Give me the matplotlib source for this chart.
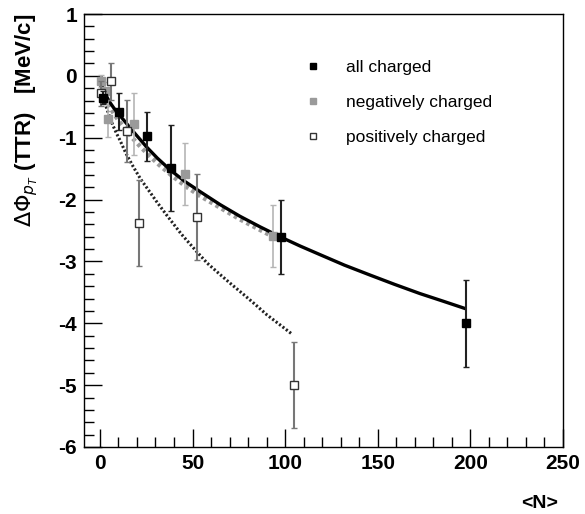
import matplotlib
matplotlib.use("Agg")
import matplotlib.pyplot as plt
from matplotlib.lines import Line2D
from matplotlib.ticker import MultipleLocator

plt.rcParams['font.family'] = ['Liberation Sans', 'DejaVu Sans']
plt.rcParams['axes.unicode_minus'] = False

# ---- data ----
all_x = [1.5, 10.3, 25.2, 38.3, 97.5, 197.5]
all_y = [-0.35, -0.58, -0.98, -1.49, -2.6, -4.0]
all_err = [0.1, 0.3, 0.4, 0.7, 0.6, 0.7]

neg_x = [0.8, 2.5, 4.2, 18.4, 45.9, 93.3]
neg_y = [-0.08, -0.25, -0.69, -0.78, -1.59, -2.59]
neg_err = [0.1, 0.15, 0.3, 0.5, 0.5, 0.5]

pos_x = [0.4, 6.1, 14.5, 21.0, 52.2, 105.0]
pos_y = [-0.28, -0.09, -0.89, -2.38, -2.28, -5.0]
pos_err = [0.2, 0.3, 0.5, 0.7, 0.7, 0.7]

fit_all_x = [0.5, 1.2, 2.2, 3.5, 5.4, 7.5, 9.9, 13.0, 16.0, 20.0, 25.2, 31.0, 38.3, 46.0, 54.0,
             64.8, 75.6, 86.4, 97.2, 108.0, 118.8, 132.0, 145.8, 159.0, 172.8, 185.0, 197.0]
fit_all_y = [-0.10, -0.17, -0.25, -0.33, -0.43, -0.52, -0.61, -0.72, -0.83, -0.97, -1.15, -1.33,
             -1.53, -1.71, -1.87, -2.08, -2.27, -2.44, -2.60, -2.75, -2.89, -3.06, -3.22, -3.37,
             -3.52, -3.64, -3.76]

fit_neg_x = [0.5, 1.2, 2.0, 3.4, 5.0, 7.5, 10.0, 14.0, 18.0, 22.0, 27.0, 32.0, 38.3, 46.0, 54.0,
             64.8, 75.6, 86.4, 93.4]
fit_neg_y = [-0.13, -0.21, -0.28, -0.38, -0.48, -0.61, -0.72, -0.88, -1.02, -1.15, -1.30, -1.44,
             -1.60, -1.78, -1.94, -2.13, -2.32, -2.49, -2.60]

fit_pos_x = [0.5, 1.5, 2.5, 3.6, 5.2, 7.0, 8.8, 10.8, 14.0, 18.0, 22.0, 27.0, 31.0, 36.0, 44.0,
             52.2, 58.0, 64.8, 71.0, 77.4, 84.0, 90.0, 97.0, 103.5]
fit_pos_y = [-0.16, -0.31, -0.42, -0.52, -0.66, -0.80, -0.92, -1.04, -1.25, -1.47, -1.67, -1.88,
             -2.05, -2.25, -2.56, -2.84, -3.03, -3.21, -3.37, -3.53, -3.70, -3.86, -4.02, -4.17]

legend_labels = ["all charged", "negatively charged", "positively charged"]

# ---- figure ----
W, H = 585, 514
fig = plt.figure(figsize=(W / 100, H / 100), dpi=100)
ax = fig.add_axes([84 / W, 1 - 447 / H, (563 - 84) / W, (447 - 14) / H])

# fits
ax.plot(fit_neg_x, fit_neg_y, color='#9a9a9a', lw=3.2, ls=(0, (0.8, 0.8)), zorder=2)
ax.plot(fit_pos_x, fit_pos_y, color='#222222', lw=2.2, ls=(0, (0.7, 0.7)), zorder=2)
ax.plot(fit_all_x, fit_all_y, color='black', lw=2.4, zorder=3, solid_joinstyle='round')

# data
ax.errorbar(neg_x, neg_y, yerr=neg_err, fmt='s', color='#9a9a9a', ecolor='#b5b5b5',
            ms=6, mec='#9a9a9a', elinewidth=1.2, capsize=2, zorder=4)
ax.errorbar(pos_x, pos_y, yerr=pos_err, fmt='s', mfc='white', mec='#333333', ecolor='#777777',
            ms=6, mew=1.0, elinewidth=1.5, capsize=2, zorder=5)
ax.errorbar(all_x, all_y, yerr=all_err, fmt='s', color='black', ecolor='#222222',
            ms=5.5, elinewidth=1.5, capsize=2, zorder=6)

ax.set_xlim(-8.6, 250)
ax.set_ylim(-6, 1)

ax.xaxis.set_major_locator(MultipleLocator(50))
ax.xaxis.set_minor_locator(MultipleLocator(10))
ax.yaxis.set_major_locator(MultipleLocator(1))
ax.yaxis.set_minor_locator(MultipleLocator(0.2))
ax.tick_params(which='both', direction='in', top=False, right=False, width=1.0)
ax.tick_params(which='major', length=13, labelsize=15, pad=5)
ax.tick_params(which='minor', length=7)
for lab in ax.get_xticklabels() + ax.get_yticklabels():
    lab.set_fontweight('bold')
for s in ax.spines.values():
    s.set_linewidth(1.0)

# legend
handles = [
    Line2D([], [], ls='none', marker='s', ms=5, color='black'),
    Line2D([], [], ls='none', marker='s', ms=5, color='#9a9a9a'),
    Line2D([], [], ls='none', marker='s', ms=5, mfc='white', mec='#333333'),
]
ax.legend(handles, legend_labels, loc='upper left',
          bbox_to_anchor=((289 - 84) / (563 - 84), 1 - (44 - 14) / 433),
          frameon=False, fontsize=12.5, handlelength=1.0, handletextpad=1.4, labelspacing=1.15)

# axis titles
fig.text(27 / W, 1 - 14 / H, r"$\Delta\Phi_{p_{T}}$ (TTR)   [MeV/c]", rotation=90,
         ha='center', va='top', fontsize=16, fontweight='bold')
fig.text(540 / W, 1 - 503 / H, "<N>", ha='center', va='center', fontsize=14, fontweight='bold')

fig.savefig("out.png", dpi=100)
